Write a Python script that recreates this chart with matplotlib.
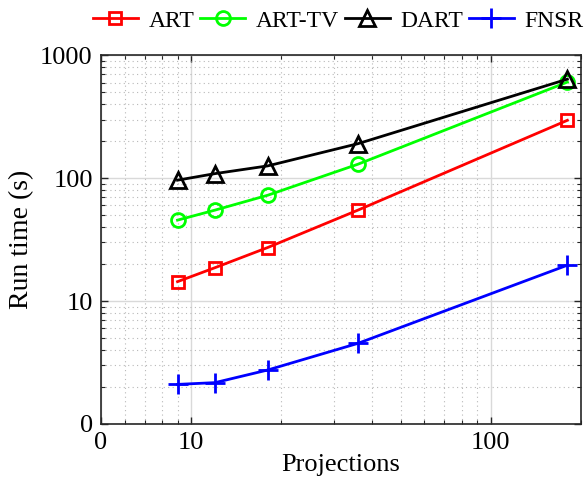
import numpy as np
import matplotlib
matplotlib.use('Agg')
import matplotlib.pyplot as plt
from matplotlib.ticker import LogLocator, NullFormatter, FixedLocator, FixedFormatter

plt.rcParams['font.family'] = ['Liberation Serif', 'DejaVu Serif']
plt.rcParams['mathtext.fontset'] = 'stix'

# data
projections = [9, 12, 18, 36, 180]
t_art = [14.4, 18.7, 27.3, 55, 296]
t_arttv = [45.6, 55, 72.7, 130, 606]
t_dart = [96.4, 109, 126, 191, 640]
t_fnsr = [2.10, 2.17, 2.75, 4.53, 19.6]

xticks = [5, 10, 100]
xticklabels = ['0', '10', '100']
yticks = [1, 10, 100, 1000]
yticklabels = ['0', '10', '100', '1000']

fig = plt.figure(figsize=(5.84, 4.8), dpi=100)
ax = fig.add_axes([0.173, 0.1167, 0.822, 0.768])

lw = 2.0
ax.plot(projections, t_art, '-s', color='#ff0000', lw=lw, ms=8, mfc='none', mew=2, label='ART')
ax.plot(projections, t_arttv, '-o', color='#00ff00', lw=lw, ms=10, mfc='none', mew=2, label='ART-TV')
ax.plot(projections, t_dart, '-^', color='#000000', lw=lw, ms=11, mfc='none', mew=2, label='DART')
ax.plot(projections, t_fnsr, '-+', color='#0000ff', lw=lw, ms=14, mew=2, label='FNSR')

ax.set_xscale('log')
ax.set_yscale('log')
ax.set_xlim(5, 200)
ax.set_ylim(1, 1000)

ax.xaxis.set_major_locator(FixedLocator(xticks))
ax.xaxis.set_major_formatter(FixedFormatter(xticklabels))
ax.yaxis.set_major_locator(FixedLocator(yticks))
ax.yaxis.set_major_formatter(FixedFormatter(yticklabels))
ax.xaxis.set_minor_locator(LogLocator(base=10, subs=np.arange(2, 10)))
ax.yaxis.set_minor_locator(LogLocator(base=10, subs=np.arange(2, 10)))
ax.xaxis.set_minor_formatter(NullFormatter())
ax.yaxis.set_minor_formatter(NullFormatter())

ax.grid(True, which='major', color='#d9d9d9', lw=1.0, ls='-')
ax.grid(True, which='minor', color='#b8b8b8', lw=0.8, ls=(0, (1, 3)))
ax.set_axisbelow(True)

ax.tick_params(which='both', direction='in', top=True, right=True, colors='#262626', labelcolor='black')
ax.tick_params(which='major', length=5, width=1, labelsize=19, pad=6)
ax.tick_params(which='minor', length=3, width=0.8)
for s in ax.spines.values():
    s.set_color('#262626')
    s.set_linewidth(1.2)

ax.set_xlabel('Projections', fontsize=19, labelpad=0)
ax.set_ylabel('Run time (s)', fontsize=20, labelpad=4)

ax.legend(loc='lower right', bbox_to_anchor=(1.02, 1.045), ncol=4, frameon=False,
          fontsize=17, handlelength=1.9, handletextpad=0.45, columnspacing=0.25,
          borderaxespad=0.1, borderpad=0.2)

fig.savefig('out.png', dpi=100)
